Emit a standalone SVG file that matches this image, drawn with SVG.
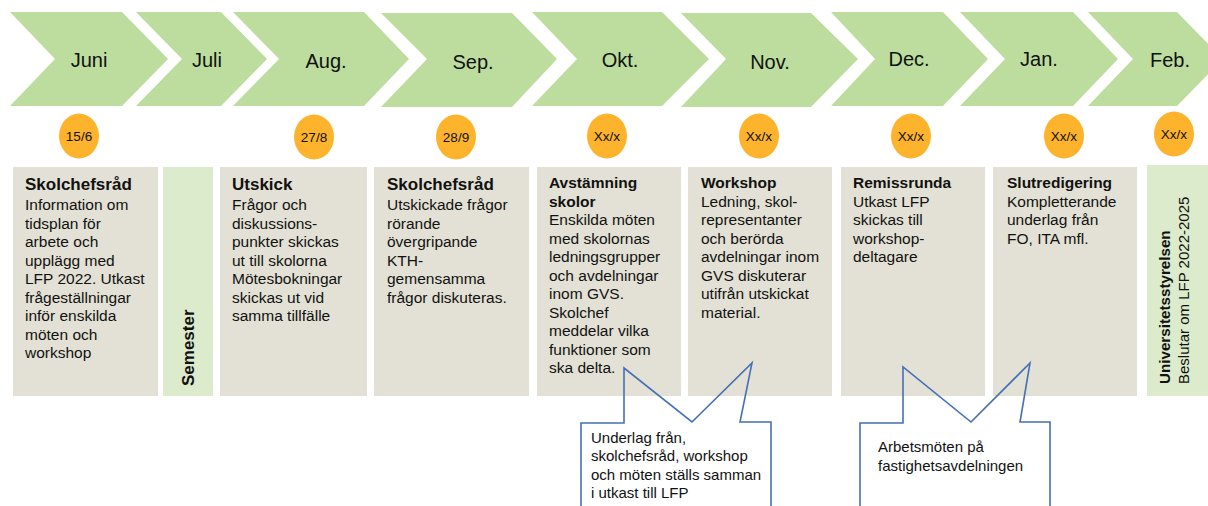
<svg xmlns="http://www.w3.org/2000/svg" width="1208" height="506" viewBox="0 0 1208 506">
<style>
.chev{fill:#BCDD9D}
.box{fill:#E3E1D5}
.gbox{fill:#DCEBCB}
.dot{fill:#FDB32B}
.m{font-family:"Liberation Sans",Arial,sans-serif;font-size:20px;fill:#111;text-anchor:middle}
.d{font-family:"Liberation Sans",Arial,sans-serif;font-size:13.5px;fill:#111;text-anchor:middle}
.t{font-family:"Liberation Sans",Arial,sans-serif;font-size:15.5px;fill:#111}
.b{font-weight:bold}
.big{font-size:17px}
.call{fill:none;stroke:#4470B5;stroke-width:1.6}
.ct{font-family:"Liberation Sans",Arial,sans-serif;font-size:15px;fill:#111}
</style>
<rect width="1208" height="506" fill="#FFFFFF"/>
<g id="months">
<g id="m-juni"><polygon class="chev" points="10,12 122,12 168,59 122,106 10,106 55,59"/><text class="m" x="89" y="67">Juni</text></g>
<g id="m-juli"><polygon class="chev" points="136,12 221,12 267,59 221,106 136,106 182,59"/><text class="m" x="207" y="67">Juli</text></g>
<g id="m-aug"><polygon class="chev" points="233,12 364,12 409,59 364,106 233,106 279,59"/><text class="m" x="326" y="68">Aug.</text></g>
<g id="m-sep"><polygon class="chev" points="381,13 512,13 557,59 512,107 381,107 427,59"/><text class="m" x="473" y="69">Sep.</text></g>
<g id="m-okt"><polygon class="chev" points="532,12 662,12 709,59 662,106 532,106 577,59"/><text class="m" x="620" y="67">Okt.</text></g>
<g id="m-nov"><polygon class="chev" points="681,13 811,13 858,59 811,107 681,107 726,59"/><text class="m" x="770" y="69">Nov.</text></g>
<g id="m-dec"><polygon class="chev" points="831,12 943,12 988,59 943,106 831,106 875,59"/><text class="m" x="909" y="66">Dec.</text></g>
<g id="m-jan"><polygon class="chev" points="960,12 1073,12 1118,59 1073,106 960,106 1005,59"/><text class="m" x="1039" y="66">Jan.</text></g>
<g id="m-feb"><polygon class="chev" points="1088,12 1177,12 1223,59 1177,106 1088,106 1133,59"/><text class="m" x="1170" y="67">Feb.</text></g>
</g>
<g id="dates">
<g id="d1"><ellipse class="dot" cx="79" cy="136" rx="20" ry="22.5"/><text class="d" x="79" y="141">15/6</text></g>
<g id="d2"><ellipse class="dot" cx="314" cy="137" rx="20" ry="22.5"/><text class="d" x="314" y="142">27/8</text></g>
<g id="d3"><ellipse class="dot" cx="456" cy="137" rx="20" ry="22.5"/><text class="d" x="456" y="142">28/9</text></g>
<g id="d4"><ellipse class="dot" cx="607" cy="136" rx="20" ry="22.5"/><text class="d" x="607" y="141">Xx/x</text></g>
<g id="d5"><ellipse class="dot" cx="759" cy="136" rx="20" ry="22.5"/><text class="d" x="759" y="141">Xx/x</text></g>
<g id="d6"><ellipse class="dot" cx="911" cy="136" rx="20" ry="22.5"/><text class="d" x="911" y="141">Xx/x</text></g>
<g id="d7"><ellipse class="dot" cx="1064" cy="136" rx="20" ry="22.5"/><text class="d" x="1064" y="141">Xx/x</text></g>
<g id="d8"><ellipse class="dot" cx="1174" cy="134" rx="20" ry="22.5"/><text class="d" x="1174" y="139">Xx/x</text></g>
</g>
<g id="box-juni"><rect class="box" x="13" y="167" width="145" height="229"/>
<text class="t"><tspan class="b big" x="25" y="190">Skolchefsråd</tspan><tspan x="25" y="210">Information om</tspan><tspan x="25" y="228.5">tidsplan för</tspan><tspan x="25" y="247">arbete och</tspan><tspan x="25" y="265.5">upplägg med</tspan><tspan x="25" y="284">LFP 2022. Utkast</tspan><tspan x="25" y="302.5">frågeställningar</tspan><tspan x="25" y="321">inför enskilda</tspan><tspan x="25" y="339.5">möten och</tspan><tspan x="25" y="358">workshop</tspan></text></g>
<g id="box-juli"><rect class="gbox" x="163" y="167" width="50" height="229"/>
<text class="t b big" transform="translate(194,386) rotate(-90)">Semester</text></g>
<g id="box-aug"><rect class="box" x="220" y="167" width="147" height="229"/>
<text class="t"><tspan class="b big" x="232" y="190">Utskick</tspan><tspan x="232" y="210">Frågor och</tspan><tspan x="232" y="228.5">diskussions-</tspan><tspan x="232" y="247">punkter skickas</tspan><tspan x="232" y="265.5">ut till skolorna</tspan><tspan x="232" y="284">Mötesbokningar</tspan><tspan x="232" y="302.5">skickas ut vid</tspan><tspan x="232" y="321">samma tillfälle</tspan></text></g>
<g id="box-sep"><rect class="box" x="374" y="167" width="155" height="229"/>
<text class="t"><tspan class="b big" x="387" y="190">Skolchefsråd</tspan><tspan x="387" y="210">Utskickade frågor</tspan><tspan x="387" y="228.5">rörande</tspan><tspan x="387" y="247">övergripande</tspan><tspan x="387" y="265.5">KTH-</tspan><tspan x="387" y="284">gemensamma</tspan><tspan x="387" y="302.5">frågor diskuteras.</tspan></text></g>
<g id="box-okt"><rect class="box" x="537" y="167" width="144" height="229"/>
<text class="t"><tspan class="b" x="549" y="188">Avstämning</tspan><tspan class="b" x="549" y="206.5">skolor</tspan><tspan x="549" y="225">Enskilda möten</tspan><tspan x="549" y="243.5">med skolornas</tspan><tspan x="549" y="262">ledningsgrupper</tspan><tspan x="549" y="280.5">och avdelningar</tspan><tspan x="549" y="299">inom GVS.</tspan><tspan x="549" y="317.5">Skolchef</tspan><tspan x="549" y="336">meddelar vilka</tspan><tspan x="549" y="354.5">funktioner som</tspan><tspan x="549" y="373">ska delta.</tspan></text></g>
<g id="box-nov"><rect class="box" x="688" y="167" width="144" height="229"/>
<text class="t"><tspan class="b" x="701" y="188">Workshop</tspan><tspan x="701" y="206.5">Ledning, skol-</tspan><tspan x="701" y="225">representanter</tspan><tspan x="701" y="243.5">och berörda</tspan><tspan x="701" y="262">avdelningar inom</tspan><tspan x="701" y="280.5">GVS diskuterar</tspan><tspan x="701" y="299">utifrån utskickat</tspan><tspan x="701" y="317.5">material.</tspan></text></g>
<g id="box-dec"><rect class="box" x="841" y="167" width="144" height="229"/>
<text class="t"><tspan class="b" x="853" y="188">Remissrunda</tspan><tspan x="853" y="206.5">Utkast LFP</tspan><tspan x="853" y="225">skickas till</tspan><tspan x="853" y="243.5">workshop-</tspan><tspan x="853" y="262">deltagare</tspan></text></g>
<g id="box-jan"><rect class="box" x="993" y="167" width="144" height="229"/>
<text class="t"><tspan class="b" x="1007" y="188">Slutredigering</tspan><tspan x="1007" y="206.5">Kompletterande</tspan><tspan x="1007" y="225">underlag från</tspan><tspan x="1007" y="243.5">FO, ITA mfl.</tspan></text></g>
<g id="box-feb"><rect class="gbox" x="1147" y="165" width="61" height="231"/>
<text class="t b" style="font-size:15.2px" transform="translate(1170,384) rotate(-90)">Universitetsstyrelsen</text>
<text class="t" style="font-size:15px" transform="translate(1189,384) rotate(-90)">Beslutar om  LFP 2022-2025</text></g>
<g id="connectors">
<g id="callout-1"><path class="call" d="M581,510 L581,423 L624,423 L624,368 L692,422 L752,363 L740,422 L771,422 L771,510"/>
<text class="ct"><tspan x="591" y="442.5">Underlag från,</tspan><tspan x="591" y="461">skolchefsråd, workshop</tspan><tspan x="591" y="479.5">och möten ställs samman</tspan><tspan x="591" y="498">i utkast till LFP</tspan></text></g>
<g id="callout-2"><path class="call" d="M860,510 L860,423 L903,423 L903,367 L971,422 L1030,363 L1020,422 L1050,422 L1050,510"/>
<text class="ct"><tspan x="878" y="452">Arbetsmöten på</tspan><tspan x="878" y="470.5">fastighetsavdelningen</tspan></text></g>
</g>
</svg>
